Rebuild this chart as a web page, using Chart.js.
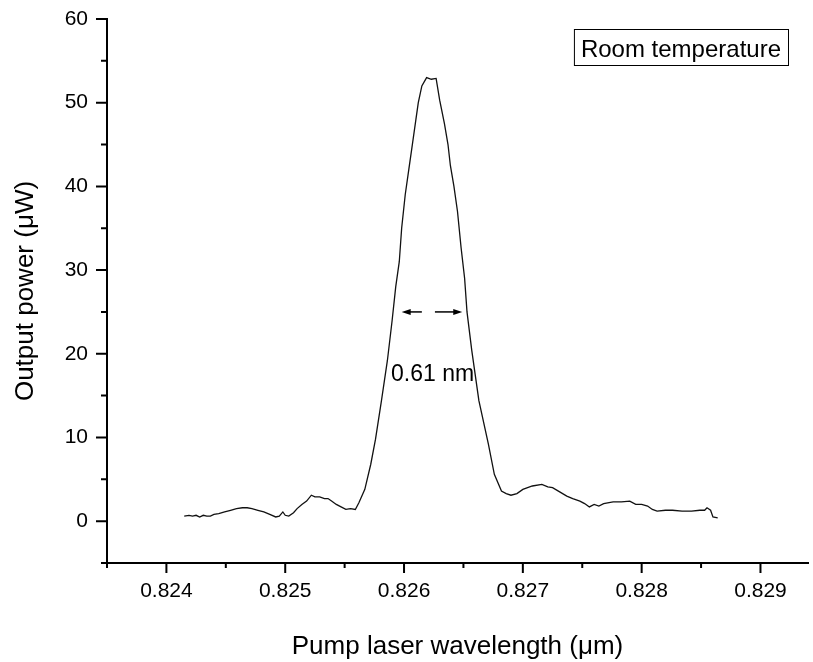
<!DOCTYPE html>
<html>

<head>
    <title>Pump wavelength scan</title>
    <script src="https://cdn.jsdelivr.net/npm/chart.js"></script>
    <style>
        body {
            margin: 0;
            background: #fff;
        }
        
        #wrap {
            width: 813px;
            height: 662px;
        }
    </style>
</head>

<body>
    <div id="wrap">
        <canvas id="scanChart" width="813" height="662"></canvas>
    </div>

    <script>
        // wavelength (um) and output power (uW)
        const wavelength = [
            0.82415, 0.82419, 0.82422, 0.82425, 0.82428, 0.82431, 0.82434, 0.82437, 0.8244, 0.82444,
            0.82449, 0.82454, 0.82459, 0.82464, 0.82468, 0.82472, 0.82477, 0.82482, 0.82487, 0.82492,
            0.82495, 0.82498, 0.825, 0.82503, 0.82507, 0.8251, 0.82514, 0.82518, 0.82522, 0.82525,
            0.82529, 0.82533, 0.82536, 0.82539, 0.82543, 0.82547, 0.82551, 0.82555, 0.82559, 0.82562,
            0.82567, 0.82572, 0.82576, 0.82581, 0.82586, 0.8259, 0.82593, 0.82596, 0.82598, 0.82601,
            0.82604, 0.82607, 0.8261, 0.82612, 0.82615, 0.82619, 0.82623, 0.82627, 0.8263, 0.82634,
            0.82637, 0.82639, 0.82642, 0.82645, 0.82648, 0.82651, 0.82653, 0.82657, 0.82663, 0.82671,
            0.82676, 0.82682, 0.82686, 0.8269, 0.82695, 0.827, 0.82708, 0.82716, 0.82721, 0.82725,
            0.82731, 0.82737, 0.82742, 0.82748, 0.82752, 0.82756, 0.8276, 0.82764, 0.82768, 0.82776,
            0.82783, 0.8279, 0.82795, 0.828, 0.82805, 0.82809, 0.82813, 0.8282, 0.82826, 0.82834,
            0.82842, 0.82849, 0.82853, 0.82855, 0.82858, 0.8286, 0.82864
        ];
        const power = [
            0.6, 0.7, 0.6, 0.7, 0.5, 0.7, 0.6, 0.6, 0.8, 0.9,
            1.1, 1.3, 1.5, 1.6, 1.6, 1.5, 1.3, 1.1, 0.8, 0.5,
            0.6, 1.1, 0.7, 0.6, 1.0, 1.5, 2.0, 2.4, 3.1, 2.9,
            2.9, 2.7, 2.7, 2.4, 2.0, 1.7, 1.4, 1.5, 1.4, 2.2,
            3.8, 6.8, 9.8, 14.4, 19.2, 24, 28, 31, 35, 39,
            42, 45, 48, 50, 52, 53, 52.8, 52.9, 50.3, 47.5,
            45, 42.5, 40, 37, 32.7, 29, 25, 20.4, 14.4, 9.2,
            5.6, 3.6, 3.3, 3.1, 3.3, 3.8, 4.2, 4.4, 4.1, 4.0,
            3.5, 3.0, 2.7, 2.4, 2.1, 1.7, 2.0, 1.8, 2.1, 2.3,
            2.3, 2.4, 2.0, 2.0, 1.8, 1.4, 1.2, 1.3, 1.3, 1.2,
            1.2, 1.3, 1.3, 1.6, 1.3, 0.5, 0.4
        ];

        const xTicks = [0.824, 0.825, 0.826, 0.827, 0.828, 0.829];
        const xMinorTicks = [0.8235, 0.8245, 0.8255, 0.8265, 0.8275, 0.8285];
        const yTicks = [0, 10, 20, 30, 40, 50, 60];
        const yMinorTicks = [-5, 5, 15, 25, 35, 45, 55];

        // FWHM arrows (wavelength from, wavelength to, power) and label
        const fwhmArrows = [
            [0.82615, 0.82598, 25],
            [0.82626, 0.82649, 25]
        ];
        const fwhmLabel = { text: '0.61 nm', x: 0.82624, y: 16.8 };
        const boxLabel = 'Room temperature';

        const points = wavelength.map((w, i) => ({ x: w, y: power[i] }));

        // draws tick marks, the FWHM arrows and the boxed label
        const extras = {
            id: 'extras',
            afterDraw(chart) {
                const c = chart.ctx;
                const xs = chart.scales.x;
                const ys = chart.scales.y;
                const area = chart.chartArea;
                c.save();
                c.strokeStyle = '#000';
                c.lineWidth = 2;
                c.beginPath();
                xTicks.forEach(v => {
                    const px = xs.getPixelForValue(v);
                    c.moveTo(px, area.bottom);
                    c.lineTo(px, area.bottom + 10);
                });
                xMinorTicks.forEach(v => {
                    const px = xs.getPixelForValue(v);
                    c.moveTo(px, area.bottom);
                    c.lineTo(px, area.bottom + 5);
                });
                yTicks.forEach(v => {
                    const py = ys.getPixelForValue(v);
                    c.moveTo(area.left, py);
                    c.lineTo(area.left - 11, py);
                });
                yMinorTicks.forEach(v => {
                    const py = ys.getPixelForValue(v);
                    c.moveTo(area.left, py);
                    c.lineTo(area.left - 6, py);
                });
                c.stroke();

                // arrows
                c.lineWidth = 1.5;
                c.fillStyle = '#000';
                fwhmArrows.forEach(a => {
                    const x0 = xs.getPixelForValue(a[0]);
                    const x1 = xs.getPixelForValue(a[1]);
                    const py = ys.getPixelForValue(a[2]);
                    const dir = x1 > x0 ? 1 : -1;
                    c.beginPath();
                    c.moveTo(x0, py);
                    c.lineTo(x1 - dir * 6, py);
                    c.stroke();
                    c.beginPath();
                    c.moveTo(x1, py);
                    c.lineTo(x1 - dir * 9, py - 3);
                    c.lineTo(x1 - dir * 9, py + 3);
                    c.closePath();
                    c.fill();
                });

                c.font = '23px "Liberation Sans", Arial, sans-serif';
                c.textAlign = 'center';
                c.textBaseline = 'alphabetic';
                c.fillText(fwhmLabel.text, xs.getPixelForValue(fwhmLabel.x), ys.getPixelForValue(fwhmLabel.y));

                // boxed label, top right
                c.font = '24px "Liberation Sans", Arial, sans-serif';
                const tw = c.measureText(boxLabel).width;
                const right = area.right - 20;
                const top = area.top + 10;
                const bw = tw + 14;
                const bh = 36;
                c.lineWidth = 1;
                c.strokeRect(right - bw + 0.5, top + 0.5, bw, bh);
                c.textAlign = 'left';
                c.fillText(boxLabel, right - bw + 7, top + 28);
                c.restore();
            }
        };

        const ctx = document.getElementById('scanChart').getContext('2d');
        const scanChart = new Chart(ctx, {
            type: 'line',
            data: {
                datasets: [{
                    data: points,
                    borderColor: '#111',
                    borderWidth: 1.3,
                    pointRadius: 0,
                    tension: 0,
                    fill: false
                }]
            },
            options: {
                responsive: false,
                animation: false,
                layout: {
                    padding: { top: 19, right: 5, left: 0, bottom: 0 }
                },
                plugins: {
                    legend: { display: false },
                    tooltip: { enabled: false }
                },
                scales: {
                    x: {
                        type: 'linear',
                        min: 0.8235,
                        max: 0.8294,
                        afterBuildTicks: (scale) => {
                            scale.ticks = xTicks.map(v => ({ value: v }));
                        },
                        afterFit: (scale) => {
                            scale.height = 99;
                            scale.paddingLeft = 0;
                            scale.paddingRight = 0;
                        },
                        grid: { display: false, drawTicks: false },
                        border: { display: true, color: '#000', width: 2 },
                        ticks: {
                            color: '#000',
                            padding: 16,
                            maxRotation: 0,
                            font: { family: '"Liberation Sans", Arial, sans-serif', size: 21 },
                            callback: (v) => v.toFixed(3)
                        },
                        title: {
                            display: true,
                            text: 'Pump laser wavelength (\u03bcm)',
                            color: '#000',
                            padding: 0,
                            font: { family: '"Liberation Sans", Arial, sans-serif', size: 26 }
                        }
                    },
                    y: {
                        type: 'linear',
                        min: -5,
                        max: 60,
                        afterBuildTicks: (scale) => {
                            scale.ticks = yTicks.map(v => ({ value: v }));
                        },
                        afterFit: (scale) => {
                            scale.width = 107;
                            scale.paddingTop = 0;
                            scale.paddingBottom = 0;
                        },
                        grid: { display: false, drawTicks: false },
                        border: { display: true, color: '#000', width: 2 },
                        ticks: {
                            color: '#000',
                            padding: 19,
                            font: { family: '"Liberation Sans", Arial, sans-serif', size: 21 }
                        },
                        title: {
                            display: true,
                            text: 'Output power (\u03bcW)',
                            color: '#000',
                            padding: { top: 10 },
                            font: { family: '"Liberation Sans", Arial, sans-serif', size: 26 }
                        }
                    }
                }
            },
            plugins: [extras]
        });
    </script>
</body>

</html>
